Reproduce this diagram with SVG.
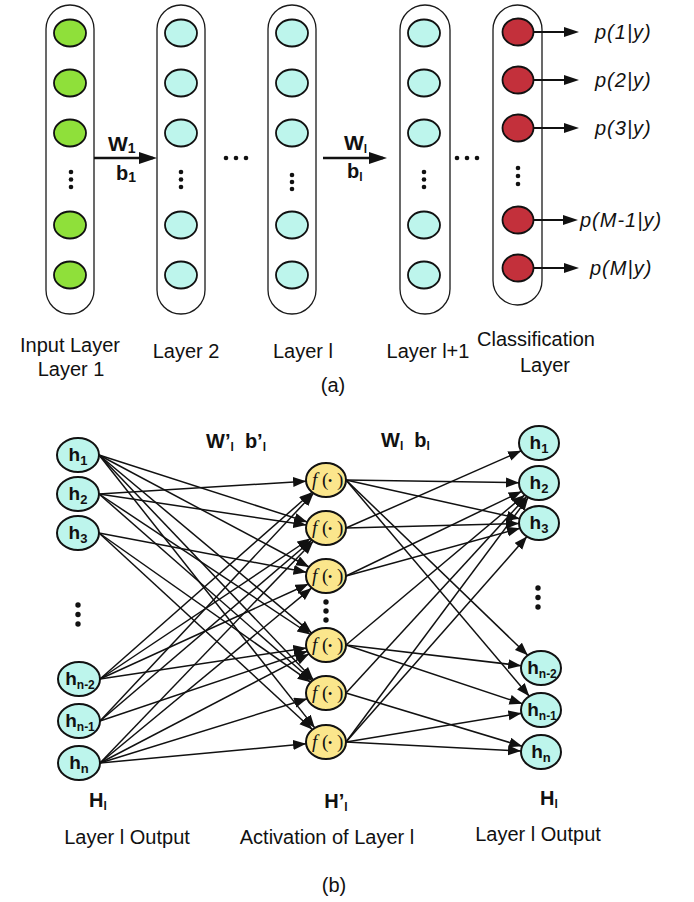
<svg xmlns="http://www.w3.org/2000/svg" width="694" height="902" viewBox="0 0 694 902">
<defs>
<style>
.col{fill:#fff;stroke:#1a1a1a;stroke-width:1.3}
.ng{fill:#8FE03A;stroke:#111;stroke-width:1.8}
.nc{fill:#BDF5EC;stroke:#111;stroke-width:1.8}
.nr{fill:#C3303B;stroke:#111;stroke-width:1.8}
.nb{fill:#BDF5EC;stroke:#111;stroke-width:2}
.ny{fill:#FBE68C;stroke:#111;stroke-width:2}
.dot{fill:#111}
.t{font-family:"Liberation Sans",Arial,sans-serif;font-size:20px;fill:#111}
.tb{font-family:"Liberation Sans",Arial,sans-serif;font-weight:bold;fill:#111}
.tp{font-family:"Liberation Sans",Arial,sans-serif;font-style:italic;font-size:20px;letter-spacing:1px;fill:#111}
.tf{font-family:"Liberation Serif","Times New Roman",serif;font-size:19px;fill:#111}
.e{fill:none;stroke:#111;stroke-width:1.5;marker-end:url(#ah)}
.ea{fill:none;stroke:#111;stroke-width:2.5;marker-end:url(#ahA)}
.ep{fill:none;stroke:#111;stroke-width:2;marker-end:url(#ahP)}
</style>
<marker id="ah" markerUnits="userSpaceOnUse" markerWidth="14" markerHeight="11" refX="13" refY="5" orient="auto"><path d="M0,0 L13,5 L0,10 z" fill="#111"/></marker>
<marker id="ahA" markerUnits="userSpaceOnUse" markerWidth="19" markerHeight="13" refX="14" refY="6" orient="auto"><path d="M0,0 L18,6 L0,12 z" fill="#111"/></marker>
<marker id="ahP" markerUnits="userSpaceOnUse" markerWidth="16" markerHeight="11" refX="12" refY="5" orient="auto"><path d="M0,0 L15,5 L0,10 z" fill="#111"/></marker>
</defs>
<rect width="694" height="902" fill="#fff"/>

<!-- (a) -->
<g id="col-input">
<rect class="col" x="46" y="5" width="48" height="309" rx="24"/>
<ellipse class="ng" cx="70" cy="33" rx="16" ry="13.5"/>
<ellipse class="ng" cx="70" cy="83" rx="16" ry="13.5"/>
<ellipse class="ng" cx="70" cy="133" rx="16" ry="13.5"/>
<circle class="dot" cx="71" cy="172" r="2.3"/><circle class="dot" cx="71" cy="179.5" r="2.3"/><circle class="dot" cx="71" cy="187" r="2.3"/>
<ellipse class="ng" cx="70" cy="225" rx="16" ry="13.5"/>
<ellipse class="ng" cx="70" cy="275" rx="16" ry="13.5"/>
</g>
<g id="col-layer2">
<rect class="col" x="157" y="5" width="48" height="309" rx="24"/>
<ellipse class="nc" cx="181" cy="33" rx="16" ry="13.5"/>
<ellipse class="nc" cx="181" cy="83" rx="16" ry="13.5"/>
<ellipse class="nc" cx="181" cy="133" rx="16" ry="13.5"/>
<circle class="dot" cx="181" cy="172" r="2.3"/><circle class="dot" cx="181" cy="179.5" r="2.3"/><circle class="dot" cx="181" cy="187" r="2.3"/>
<ellipse class="nc" cx="181" cy="225" rx="16" ry="13.5"/>
<ellipse class="nc" cx="181" cy="275" rx="16" ry="13.5"/>
</g>
<g id="dots-a1">
<circle class="dot" cx="226" cy="158" r="2.3"/><circle class="dot" cx="236" cy="158" r="2.3"/><circle class="dot" cx="246" cy="158" r="2.3"/>
</g>
<g id="col-layerl">
<rect class="col" x="268" y="5" width="48" height="309" rx="24"/>
<ellipse class="nc" cx="292" cy="33" rx="16" ry="13.5"/>
<ellipse class="nc" cx="292" cy="83" rx="16" ry="13.5"/>
<ellipse class="nc" cx="292" cy="133" rx="16" ry="13.5"/>
<circle class="dot" cx="292" cy="175" r="2.3"/><circle class="dot" cx="292" cy="182" r="2.3"/><circle class="dot" cx="292" cy="189" r="2.3"/>
<ellipse class="nc" cx="292" cy="225" rx="16" ry="13.5"/>
<ellipse class="nc" cx="292" cy="275" rx="16" ry="13.5"/>
</g>
<g id="col-layerl1">
<rect class="col" x="400" y="5" width="50" height="309" rx="25"/>
<ellipse class="nc" cx="424" cy="33" rx="16" ry="13.5"/>
<ellipse class="nc" cx="424" cy="83" rx="16" ry="13.5"/>
<ellipse class="nc" cx="424" cy="133" rx="16" ry="13.5"/>
<circle class="dot" cx="424" cy="172" r="2.3"/><circle class="dot" cx="424" cy="179.5" r="2.3"/><circle class="dot" cx="424" cy="187" r="2.3"/>
<ellipse class="nc" cx="424" cy="225" rx="16" ry="13.5"/>
<ellipse class="nc" cx="424" cy="275" rx="16" ry="13.5"/>
</g>
<g id="dots-a2">
<circle class="dot" cx="457" cy="158" r="2.3"/><circle class="dot" cx="467" cy="158" r="2.3"/><circle class="dot" cx="477" cy="158" r="2.3"/>
</g>
<g id="col-class">
<rect class="col" x="493" y="5" width="49" height="300" rx="24.5"/>
<ellipse class="nr" cx="518" cy="32" rx="15.5" ry="13.5"/>
<ellipse class="nr" cx="518" cy="80" rx="15.5" ry="13.5"/>
<ellipse class="nr" cx="518" cy="128" rx="15.5" ry="13.5"/>
<circle class="dot" cx="518" cy="168" r="2.3"/><circle class="dot" cx="518" cy="176" r="2.3"/><circle class="dot" cx="518" cy="184" r="2.3"/>
<ellipse class="nr" cx="518" cy="220" rx="15.5" ry="13.5"/>
<ellipse class="nr" cx="518" cy="268" rx="15.5" ry="13.5"/>
</g>

<g id="connectors-a">
<path class="ea" d="M94,158 L153,158"/>
<path class="ea" d="M323,158 L383,158"/>
<path class="ep" d="M534,32 L576,32"/>
<path class="ep" d="M534,80 L576,80"/>
<path class="ep" d="M534,128 L576,128"/>
<path class="ep" d="M534,220 L575,220"/>
<path class="ep" d="M534,268 L576,268"/>
</g>

<g id="labels-a">
<text class="tb" x="108" y="151" font-size="21">W<tspan font-size="14" dy="2">1</tspan></text>
<text class="tb" x="116" y="180" font-size="20">b<tspan font-size="14" dy="2">1</tspan></text>
<text class="tb" x="344" y="150" font-size="21">W<tspan font-size="12" dy="3">l</tspan></text>
<text class="tb" x="347" y="178" font-size="20">b<tspan font-size="12" dy="3">l</tspan></text>
<text class="tp" x="595" y="39">p(1|y)</text>
<text class="tp" x="595" y="87">p(2|y)</text>
<text class="tp" x="595" y="135">p(3|y)</text>
<text class="tp" x="580" y="227">p(M-1|y)</text>
<text class="tp" x="590" y="275">p(M|y)</text>
<text class="t" x="70" y="352" text-anchor="middle">Input Layer</text>
<text class="t" x="71" y="376" text-anchor="middle">Layer 1</text>
<text class="t" x="186" y="358" text-anchor="middle">Layer 2</text>
<text class="t" x="303" y="358" text-anchor="middle">Layer l</text>
<text class="t" x="428" y="358" text-anchor="middle">Layer l+1</text>
<text class="t" x="536" y="346" text-anchor="middle">Classification</text>
<text class="t" x="545" y="372" text-anchor="middle">Layer</text>
<text class="t" x="333" y="392" text-anchor="middle">(a)</text>
</g>

<!-- (b) -->
<g id="connectors-b">
<path class="e" d="M99,455 L307.3,522"/>
<path class="e" d="M99,455 L309.1,567"/>
<path class="e" d="M99,455 L311.7,633.1"/>
<path class="e" d="M99,455 L313.4,679.8"/>
<path class="e" d="M99,455 L314.8,727.9"/>
<path class="e" d="M99,494 L306.1,481.2"/>
<path class="e" d="M99,494 L306.3,525.1"/>
<path class="e" d="M99,494 L310.3,634.5"/>
<path class="e" d="M99,494 L312.1,680.8"/>
<path class="e" d="M99,533 L306.5,572.3"/>
<path class="e" d="M99,533 L310.6,682.2"/>
<path class="e" d="M99,533 L312.4,729.5"/>
<path class="e" d="M100,679 L312.1,492.2"/>
<path class="e" d="M100,679 L310.3,538.5"/>
<path class="e" d="M100,679 L308.4,584"/>
<path class="e" d="M100,679 L306.3,648"/>
<path class="e" d="M100,721 L313.5,493.3"/>
<path class="e" d="M100,721 L311.9,540"/>
<path class="e" d="M100,721 L307.4,651.3"/>
<path class="e" d="M100,763 L313.3,541.2"/>
<path class="e" d="M100,763 L311.7,587.9"/>
<path class="e" d="M100,763 L309,653.9"/>
<path class="e" d="M100,763 L307.2,698.8"/>
<path class="e" d="M100,763 L306.1,743.8"/>
<path class="e" d="M346,480 L519,482.7"/>
<path class="e" d="M346,480 L519.7,518.7"/>
<path class="e" d="M346,480 L527.8,655.3"/>
<path class="e" d="M346,480 L529.3,696.2"/>
<path class="e" d="M346,528 L521.2,450.8"/>
<path class="e" d="M346,528 L519,523.5"/>
<path class="e" d="M346,576 L521.6,491.4"/>
<path class="e" d="M346,576 L520,528.2"/>
<path class="e" d="M346,645 L524.8,494.9"/>
<path class="e" d="M346,645 L521.2,665.7"/>
<path class="e" d="M346,645 L522.4,703.8"/>
<path class="e" d="M346,693 L526.7,496.4"/>
<path class="e" d="M346,693 L522.2,746.3"/>
<path class="e" d="M346,742 L528.3,497.4"/>
<path class="e" d="M346,742 L527,536.6"/>
<path class="e" d="M346,742 L521.4,713.2"/>
<path class="e" d="M346,742 L521,751"/>
</g>

<g id="in-h1"><ellipse class="nb" cx="78" cy="455" rx="21" ry="17"/><text class="tb" x="78" y="461" font-size="19" text-anchor="middle">h<tspan font-size="13" dy="4">1</tspan></text></g>
<g id="in-h2"><ellipse class="nb" cx="78" cy="494" rx="21" ry="17"/><text class="tb" x="78" y="500" font-size="19" text-anchor="middle">h<tspan font-size="13" dy="4">2</tspan></text></g>
<g id="in-h3"><ellipse class="nb" cx="78" cy="533" rx="21" ry="17"/><text class="tb" x="78" y="539" font-size="19" text-anchor="middle">h<tspan font-size="13" dy="4">3</tspan></text></g>
<g id="in-dots"><circle class="dot" cx="78" cy="605" r="2.7"/><circle class="dot" cx="78" cy="614.5" r="2.7"/><circle class="dot" cx="78" cy="624" r="2.7"/></g>
<g id="in-hn2"><ellipse class="nb" cx="79" cy="679" rx="21" ry="17"/><text class="tb" x="80" y="685" font-size="19" text-anchor="middle">h<tspan font-size="12" dy="4">n-2</tspan></text></g>
<g id="in-hn1"><ellipse class="nb" cx="79" cy="721" rx="21" ry="17"/><text class="tb" x="80" y="727" font-size="19" text-anchor="middle">h<tspan font-size="12" dy="4">n-1</tspan></text></g>
<g id="in-hn"><ellipse class="nb" cx="79" cy="763" rx="21" ry="17"/><text class="tb" x="79" y="769" font-size="19" text-anchor="middle">h<tspan font-size="13" dy="4">n</tspan></text></g>

<g id="act-f1"><ellipse class="ny" cx="326" cy="480" rx="20" ry="17"/><text class="tf" y="486"><tspan x="312" font-style="italic">f</tspan><tspan x="322">(</tspan><tspan x="328" font-size="12" dy="-1">•</tspan><tspan x="337" dy="1">)</tspan></text></g>
<g id="act-f2"><ellipse class="ny" cx="326" cy="528" rx="20" ry="17"/><text class="tf" y="534"><tspan x="312" font-style="italic">f</tspan><tspan x="322">(</tspan><tspan x="328" font-size="12" dy="-1">•</tspan><tspan x="337" dy="1">)</tspan></text></g>
<g id="act-f3"><ellipse class="ny" cx="326" cy="576" rx="20" ry="17"/><text class="tf" y="582"><tspan x="312" font-style="italic">f</tspan><tspan x="322">(</tspan><tspan x="328" font-size="12" dy="-1">•</tspan><tspan x="337" dy="1">)</tspan></text></g>
<g id="act-dots"><circle class="dot" cx="326" cy="602" r="2.7"/><circle class="dot" cx="326" cy="611" r="2.7"/><circle class="dot" cx="326" cy="620" r="2.7"/></g>
<g id="act-f4"><ellipse class="ny" cx="326" cy="645" rx="20" ry="17"/><text class="tf" y="651"><tspan x="312" font-style="italic">f</tspan><tspan x="322">(</tspan><tspan x="328" font-size="12" dy="-1">•</tspan><tspan x="337" dy="1">)</tspan></text></g>
<g id="act-f5"><ellipse class="ny" cx="326" cy="693" rx="20" ry="17"/><text class="tf" y="699"><tspan x="312" font-style="italic">f</tspan><tspan x="322">(</tspan><tspan x="328" font-size="12" dy="-1">•</tspan><tspan x="337" dy="1">)</tspan></text></g>
<g id="act-f6"><ellipse class="ny" cx="326" cy="742" rx="20" ry="17"/><text class="tf" y="748"><tspan x="312" font-style="italic">f</tspan><tspan x="322">(</tspan><tspan x="328" font-size="12" dy="-1">•</tspan><tspan x="337" dy="1">)</tspan></text></g>

<g id="out-h1"><ellipse class="nb" cx="539" cy="443" rx="20" ry="17"/><text class="tb" x="539" y="449" font-size="19" text-anchor="middle">h<tspan font-size="13" dy="4">1</tspan></text></g>
<g id="out-h2"><ellipse class="nb" cx="539" cy="483" rx="20" ry="17"/><text class="tb" x="539" y="489" font-size="19" text-anchor="middle">h<tspan font-size="13" dy="4">2</tspan></text></g>
<g id="out-h3"><ellipse class="nb" cx="539" cy="523" rx="20" ry="17"/><text class="tb" x="539" y="529" font-size="19" text-anchor="middle">h<tspan font-size="13" dy="4">3</tspan></text></g>
<g id="out-dots"><circle class="dot" cx="538" cy="588" r="2.7"/><circle class="dot" cx="538" cy="597.5" r="2.7"/><circle class="dot" cx="538" cy="607" r="2.7"/></g>
<g id="out-hn2"><ellipse class="nb" cx="541" cy="668" rx="20" ry="17"/><text class="tb" x="542" y="674" font-size="19" text-anchor="middle">h<tspan font-size="12" dy="4">n-2</tspan></text></g>
<g id="out-hn1"><ellipse class="nb" cx="541" cy="710" rx="20" ry="17"/><text class="tb" x="542" y="716" font-size="19" text-anchor="middle">h<tspan font-size="12" dy="4">n-1</tspan></text></g>
<g id="out-hn"><ellipse class="nb" cx="541" cy="752" rx="20" ry="17"/><text class="tb" x="541" y="758" font-size="19" text-anchor="middle">h<tspan font-size="13" dy="4">n</tspan></text></g>

<g id="labels-b">
<text class="tb" x="206" y="448" font-size="20">W’<tspan font-size="12" dy="3">l</tspan><tspan dy="-3" xml:space="preserve">  b’</tspan><tspan font-size="12" dy="3">l</tspan></text>
<text class="tb" x="381" y="447" font-size="20">W<tspan font-size="12" dy="3">l</tspan><tspan dy="-3" xml:space="preserve">  b</tspan><tspan font-size="12" dy="3">l</tspan></text>
<text class="tb" x="98" y="807" font-size="20" text-anchor="middle">H<tspan font-size="12" dy="3">l</tspan></text>
<text class="tb" x="336" y="808" font-size="20" text-anchor="middle">H’<tspan font-size="12" dy="3">l</tspan></text>
<text class="tb" x="549" y="805" font-size="20" text-anchor="middle">H<tspan font-size="12" dy="3">l</tspan></text>
<text class="t" x="127" y="844" text-anchor="middle">Layer l Output</text>
<text class="t" x="327" y="844" text-anchor="middle">Activation of Layer l</text>
<text class="t" x="538" y="841" text-anchor="middle">Layer l Output</text>
<text class="t" x="334" y="892" text-anchor="middle">(b)</text>
</g>
</svg>
